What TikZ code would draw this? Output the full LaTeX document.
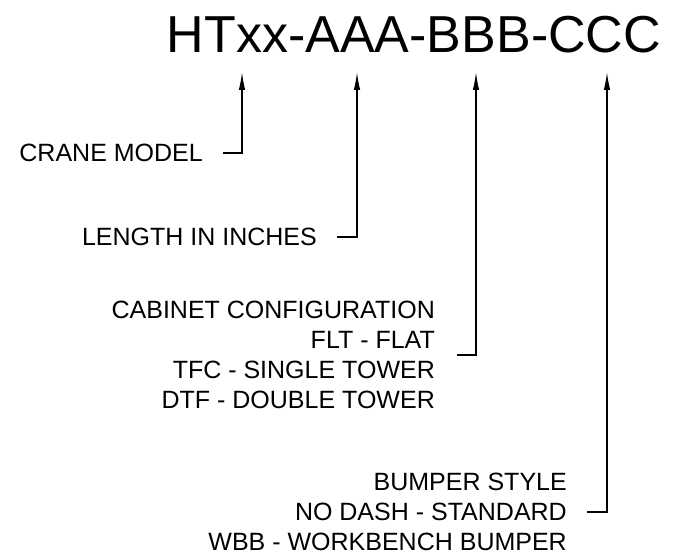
\documentclass[tikz,border=0pt]{standalone}
\usepackage{fontspec}
\setmainfont{Liberation Sans}
\usetikzlibrary{arrows.meta,positioning}
\tikzstyle{pointer} = [line width=1.3pt, -{Latex[length=18pt,width=6.5pt]}]
\tikzstyle{field} = [inner sep=0pt, anchor=east, align=right, font=\fontsize{25}{30}\selectfont]

\begin{document}
\begin{tikzpicture}[x=1pt,y=-1pt]
\useasboundingbox (0,0) rectangle (675,556);
% Part number
\node[inner sep=0pt, anchor=base, font=\fontsize{52}{60}\selectfont] (partno) at (414,53) {HTxx-AAA-BBB-CCC};

% Arrow tips under each group
\coordinate (tipmodel) at (242,72);
\coordinate (tiplength) at (357,72);
\coordinate (tipcabinet) at (476,72);
\coordinate (tipbumper) at (607,72);

% Fields
\node[field] (model) at (203,153) {CRANE MODEL};
\node[field] (length) at (317,237) {LENGTH IN INCHES};
\node[field] (cabinet) at (435,355) {CABINET CONFIGURATION\\
FLT - FLAT\\
TFC - SINGLE TOWER\\
DTF - DOUBLE TOWER};
\node[field] (bumper) at (567,512) {BUMPER STYLE\\
NO DASH - STANDARD\\
WBB - WORKBENCH BUMPER};

% Pointers
\draw[pointer] ([xshift=20pt]model.east) -| (tipmodel);
\draw[pointer] ([xshift=20pt]length.east) -| (tiplength);
\draw[pointer] ([xshift=22pt]cabinet.east) -| (tipcabinet);
\draw[pointer] ([xshift=20pt]bumper.east) -| (tipbumper);
\end{tikzpicture}
\end{document}
